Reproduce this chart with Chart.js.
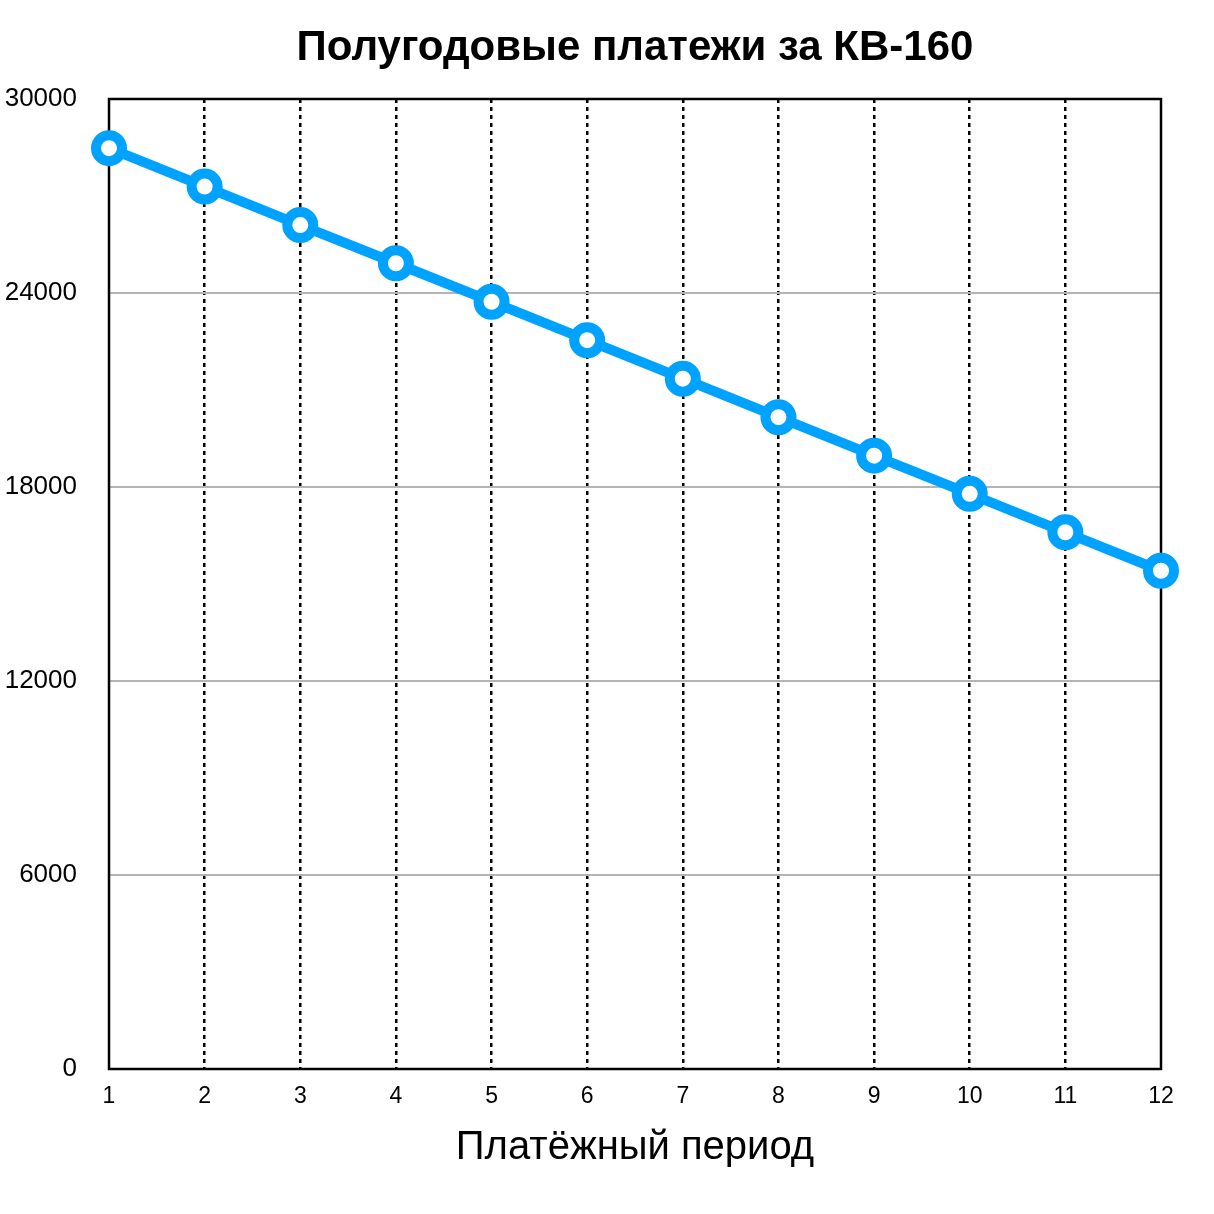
<!DOCTYPE html>
<html lang="ru">
<head>
    <meta charset="UTF-8">
    <title>Полугодовые платежи за КВ-160</title>
    <script src="https://cdn.jsdelivr.net/npm/chart.js"></script>
    <style>
        html, body { margin: 0; padding: 0; background: #fff; }
        #box { width: 1214px; height: 1214px; }
    </style>
</head>
<body>
    <div id="box">
        <canvas id="platezhiChart" width="1214" height="1214"></canvas>
    </div>

    <script>
        // Данные графика
        var periody = ['1', '2', '3', '4', '5', '6', '7', '8', '9', '10', '11', '12'];
        var platezhi = [28480, 27290, 26100, 24920, 23730, 22540, 21350, 20160, 18970, 17790, 16600, 15410];
        var yTicks = [0, 6000, 12000, 18000, 24000, 30000];
        var zagolovok = 'Полугодовые платежи за КВ-160';

        var shrift = "'Liberation Sans', Arial, Helvetica, sans-serif";

        // рамка вокруг области графика и заголовок по центру области
        var ramka = {
            id: 'ramka',
            beforeDatasetsDraw: function (chart) {
                var a = chart.chartArea;
                var ctx = chart.ctx;
                ctx.save();
                ctx.strokeStyle = '#000';
                ctx.lineWidth = 2.5;
                ctx.strokeRect(a.left, a.top, a.right - a.left, a.bottom - a.top);
                ctx.restore();
            },
            afterDraw: function (chart) {
                var a = chart.chartArea;
                var ctx = chart.ctx;
                ctx.save();
                ctx.fillStyle = '#000';
                ctx.font = 'bold 42px ' + shrift;
                ctx.textAlign = 'center';
                ctx.textBaseline = 'middle';
                ctx.fillText(zagolovok, (a.left + a.right) / 2, 48);
                ctx.restore();
            }
        };

        var ctx = document.getElementById('platezhiChart').getContext('2d');
        var chart = new Chart(ctx, {
            type: 'line',
            data: {
                labels: periody,
                datasets: [{
                    data: platezhi,
                    borderColor: '#00a2ff',
                    borderWidth: 10,
                    pointBackgroundColor: '#fff',
                    pointBorderColor: '#00a2ff',
                    pointBorderWidth: 10,
                    pointRadius: 13,
                    pointHoverRadius: 13,
                    tension: 0,
                    clip: false
                }]
            },
            options: {
                responsive: false,
                animation: false,
                devicePixelRatio: 1,
                layout: { padding: { left: 0, right: 53, top: 99, bottom: 0 } },
                plugins: {
                    legend: { display: false },
                    tooltip: { enabled: false },
                    title: { display: false }
                },
                scales: {
                    x: {
                        offset: false,
                        border: { display: false, dash: [4, 4] },
                        grid: {
                            color: function (c) {
                                return (c.index === 0 || c.index === periody.length - 1) ? 'rgba(0,0,0,0)' : '#000';
                            },
                            lineWidth: 2.5,
                            drawTicks: false
                        },
                        ticks: {
                            color: '#000',
                            padding: 14,
                            maxRotation: 0,
                            font: { family: shrift, size: 23 }
                        },
                        title: {
                            display: true,
                            text: 'Платёжный период',
                            color: '#000',
                            font: { family: shrift, size: 40 },
                            padding: { top: 10, bottom: 42 }
                        },
                        afterFit: function (scale) { scale.height = 145; }
                    },
                    y: {
                        min: 0,
                        max: 30000,
                        border: { display: false },
                        afterBuildTicks: function (scale) {
                            scale.ticks = yTicks.map(function (v) { return { value: v }; });
                        },
                        grid: {
                            color: '#b4b4b4',
                            lineWidth: 2,
                            drawTicks: false
                        },
                        ticks: {
                            color: '#000',
                            padding: 32,
                            font: { family: shrift, size: 26 },
                            callback: function (v) { return String(v); }
                        },
                        afterFit: function (scale) { scale.width = 109; }
                    }
                }
            },
            plugins: [ramka]
        });
    </script>
</body>
</html>
